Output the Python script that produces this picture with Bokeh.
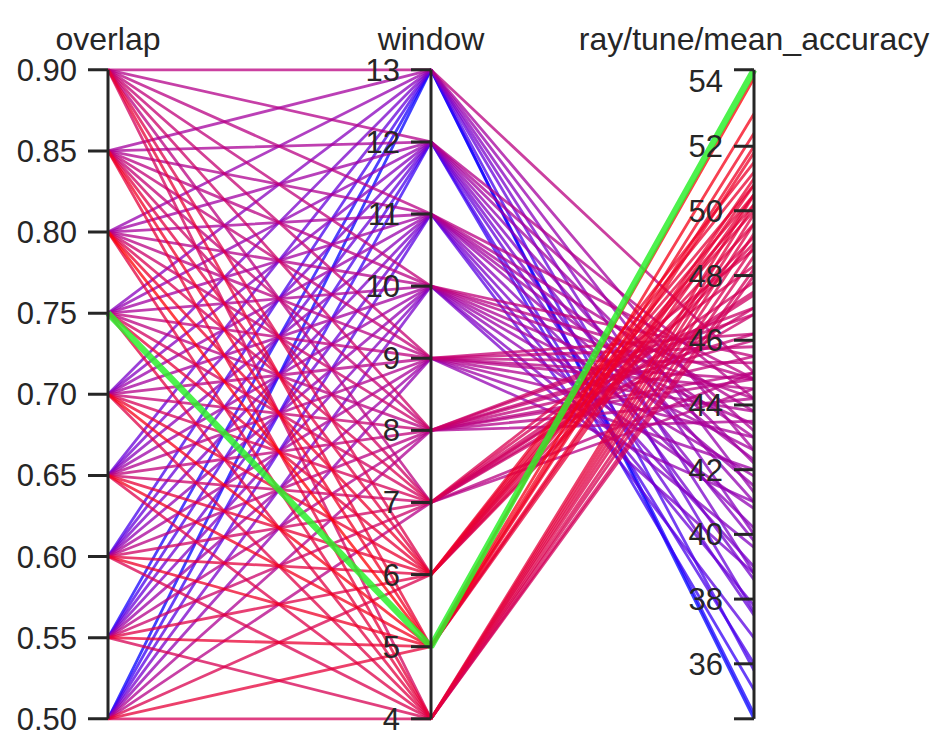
from bokeh.plotting import figure
from bokeh.models import Range1d, ColumnDataSource
from bokeh.core.properties import value
from bokeh.embed import file_html
from bokeh.resources import INLINE

# ---------------- data ----------------
overlap_values = [0.50, 0.55, 0.60, 0.65, 0.70, 0.75, 0.80, 0.85, 0.90]
window_values = [4, 5, 6, 7, 8, 9, 10, 11, 12, 13]
# mean accuracy per trial: rows = overlap, columns = window
acc_o050 = [48.2, 50.5, 49.0, 44.5, 43.5, 41.0, 38.8, 36.8, 35.2, 34.30]
acc_o055 = [48.6, 51.0, 49.6, 46.8, 44.2, 42.0, 39.6, 37.8, 36.0, 34.45]
acc_o060 = [48.9, 51.8, 50.2, 47.5, 44.8, 43.0, 40.8, 39.0, 37.5, 35.8]
acc_o065 = [49.3, 52.4, 50.8, 47.0, 45.5, 43.8, 41.8, 40.2, 38.6, 37.6]
acc_o070 = [49.6, 53.0, 51.2, 48.3, 46.2, 44.5, 42.6, 41.5, 39.8, 38.8]
acc_o075 = [49.9, 54.36, 50.5, 47.8, 45.0, 45.3, 43.4, 42.3, 41.0, 40.0]
acc_o080 = [50.2, 54.1, 51.5, 48.8, 46.8, 44.8, 44.2, 43.0, 42.2, 41.3]
acc_o085 = [50.5, 52.0, 50.0, 47.4, 46.0, 45.8, 44.8, 43.8, 43.2, 42.6]
acc_o090 = [48.0, 50.8, 49.2, 45.0, 47.0, 46.2, 45.5, 44.8, 44.2, 45.0]
acc_rows = [acc_o050, acc_o055, acc_o060, acc_o065, acc_o070,
            acc_o075, acc_o080, acc_o085, acc_o090]

overlap_ticks = [0.50, 0.55, 0.60, 0.65, 0.70, 0.75, 0.80, 0.85, 0.90]
overlap_tick_labels = ["0.50", "0.55", "0.60", "0.65", "0.70", "0.75", "0.80", "0.85", "0.90"]
window_ticks = [4, 5, 6, 7, 8, 9, 10, 11, 12, 13]
acc_ticks = [36, 38, 40, 42, 44, 46, 48, 50, 52, 54]
axis_titles = ["overlap", "window", "ray/tune/mean_accuracy"]

# ---------------- geometry ----------------
W, H = 936, 733
SX, SY = 323.0, 649.0          # px per unit on x, px per normalised unit on y
x0 = -107.5 / SX
y1 = 1 + 69.3 / SY
p = figure(width=W, height=H, output_backend="svg", toolbar_location=None,
           x_range=Range1d(x0, x0 + W / SX), y_range=Range1d(y1 - H / SY, y1),
           x_axis_location=None, y_axis_location=None, min_border=0)
p.grid.visible = False
p.outline_line_color = None
p.background_fill_color = "white"

o_min, o_max = min(overlap_values), max(overlap_values)
w_min, w_max = min(window_values), max(window_values)
all_acc = [a for row in acc_rows for a in row]
a_min, a_max = min(all_acc), max(all_acc)

def n_o(v): return (v - o_min) / (o_max - o_min)
def n_w(v): return (v - w_min) / (w_max - w_min)
def n_a(v): return (v - a_min) / (a_max - a_min)

def cmap(a):
    t = n_a(a)
    r = int(round(255 * t ** 0.5)); b = int(round(255 * (1 - t) ** 0.9))
    return "#%02x%02x%02x" % (r, 0, b)

trials = []
for oi, o in enumerate(overlap_values):
    for wi, w in enumerate(window_values):
        trials.append((acc_rows[oi][wi], o, w))
trials.sort()
best = trials[-1]
rest = trials[:-1]

src = ColumnDataSource(dict(
    xs=[[0, 1, 2] for _ in rest],
    ys=[[n_o(o), n_w(w), n_a(a)] for a, o, w in rest],
    c=[cmap(a) for a, o, w in rest],
))
p.multi_line("xs", "ys", source=src, line_color="c", line_alpha=0.75, line_width=2.8)

a, o, w = best
p.line([0, 1, 2], [n_o(o), n_w(w), n_a(a)], line_color="#2ef02e", line_alpha=0.85, line_width=6.5)

# ---------------- axes ----------------
INK = "#262626"
p.segment(x0=[0, 1, 2], y0=[0, 0, 0], x1=[0, 1, 2], y1=[1, 1, 1], line_color=INK, line_width=3)

tick_len = 20 / SX
lab_off = 31 / SX
tx, ty, tl = [], [], []
mx, my = [], []
for v, lab in zip(overlap_ticks, overlap_tick_labels):
    tx.append(0 - lab_off); ty.append(n_o(v)); tl.append(lab)
    mx.append(0); my.append(n_o(v))
for v in window_ticks:
    tx.append(1 - lab_off); ty.append(n_w(v)); tl.append(str(v))
    mx.append(1); my.append(n_w(v))
for v in acc_ticks:
    tx.append(2 - lab_off); ty.append(n_a(v)); tl.append(str(v))
    if a_max - v > 0.5:
        mx.append(2); my.append(n_a(v))
for v in (a_min, a_max):
    mx.append(2); my.append(n_a(v))

p.segment(x0=[x - tick_len for x in mx], y0=my, x1=mx, y1=my, line_color=INK, line_width=3)
p.text(x=tx, y=ty, text=tl, text_align="right", text_baseline="middle",
       text_font=value("Liberation Sans"), text_font_size=value("31px"), text_color=INK)

p.text(x=[0, 1, 2], y=[1 + (69.3 - 38.3) / SY] * 3, text=axis_titles,
       text_align="center", text_baseline="alphabetic",
       text_font=value("Liberation Sans"), text_font_size=value("32px"), text_color=INK)

open("out.html", "w").write(file_html(p, INLINE))
